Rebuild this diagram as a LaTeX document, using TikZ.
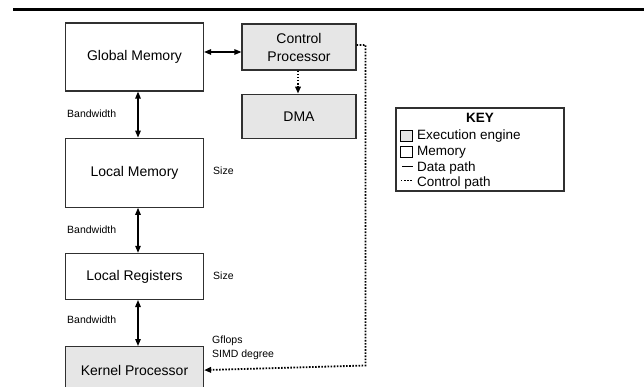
\documentclass[tikz,border=0pt]{standalone}
\usepackage{fontspec}
\setmainfont{Liberation Sans}
\usetikzlibrary{positioning,arrows.meta,calc}
\definecolor{enginegray}{HTML}{E6E6E6}
\definecolor{edgegray}{HTML}{303030}

\begin{document}
\begin{tikzpicture}[
  x=1pt, y=-1pt,
  every node/.style={font=\fontsize{14}{18}\selectfont, inner sep=0pt},
  memblk/.style={rectangle, draw=edgegray, line width=1.2pt,
                 minimum width=138pt, align=center, fill=white},
  engblk/.style={rectangle, draw=edgegray, line width=1.2pt,
                 align=center, fill=enginegray},
  note/.style={font=\fontsize{10.5}{14}\selectfont, anchor=west, align=left},
  keytext/.style={anchor=west, font=\fontsize{13.5}{16}\selectfont},
  swatch/.style={rectangle, draw=black, line width=1pt,
                 minimum width=12pt, minimum height=11pt},
  datapath/.style={{Triangle[length=7pt,width=5.5pt]}-{Triangle[length=7pt,width=5.5pt]},
                   line width=1.2pt},
  ctrlpath/.style={-{Triangle[length=7pt,width=5.5pt]}, line width=1.8pt,
                   dash pattern=on 1.6pt off 1.5pt}
]
\useasboundingbox (0,0) rectangle (644,387);

% top rule
\draw[line width=2.5pt] (13,9.5) -- (644,9.5);

% memory hierarchy
\node[memblk, minimum height=68pt]               (gmem)  at (134.5,57) {Global Memory};
\node[memblk, minimum height=69pt, below=46pt of gmem]  (lmem)  {Local Memory};
\node[memblk, minimum height=46pt, below=45pt of lmem]  (lreg)  {Local Registers};
\node[engblk, minimum width=138pt, minimum height=47pt,
      below=46pt of lreg]                        (kproc) {Kernel Processor};

\node[engblk, minimum width=114pt, minimum height=46pt] (ctrl) at (299,47) {Control\\Processor};
\node[engblk, minimum width=114pt, minimum height=44pt,
      below=23pt of ctrl]                        (dma)   {DMA};

\draw[datapath] ([yshift=5pt]gmem.east) -- ([yshift=-5pt]ctrl.west);
\draw[datapath] ([xshift=3.5pt]gmem.south) -- ([xshift=3.5pt]lmem.north);
\draw[datapath] ([xshift=3.5pt]lmem.south) -- ([xshift=3.5pt]lreg.north);
\draw[datapath] ([xshift=3.5pt]lreg.south) -- ([xshift=3.5pt]kproc.north);

\draw[ctrlpath] ([xshift=-1pt]ctrl.south) -- ([xshift=-1pt]dma.north);
\coordinate (turn) at (365.5,365.5);
\draw[ctrlpath] ([yshift=2pt]ctrl.east) -| (turn) -- (kproc.east);

% annotations
\node[note] (bw1) at (67,114) {Bandwidth};
\node[note] (bw2) at (67,230) {Bandwidth};
\node[note] (bw3) at (67,320) {Bandwidth};
\node[note] (sz1) at (213,171) {Size};
\node[note] (sz2) at (213,276) {Size};
\node[note] (perf) at (212,348) {Gflops\\SIMD degree};

% key
\node[rectangle, draw=edgegray, line width=1.2pt,
      minimum width=168pt, minimum height=83pt] (key) at (480,149.5) {};
\node[font=\fontsize{13.5}{16}\selectfont\bfseries] (keyttl) at (480,118) {KEY};
\node[swatch, fill=enginegray] (sweng) at (406,136) {};
\node[keytext] (lbleng) at (417,136) {Execution engine};
\node[swatch, fill=white]      (swmem) at (406,152) {};
\node[keytext] (lblmem) at (417,152) {Memory};
\coordinate (swdat) at (402,167);
\node[keytext] (lbldat) at (417,168) {Data path};
\draw[line width=1pt] (swdat) -- ++(11,0);
\coordinate (swctl) at (401,180.5);
\node[keytext] (lblctl) at (417,183) {Control path};
\draw[line width=1.4pt, dash pattern=on 1.4pt off 1.7pt] (swctl) -- ++(12,0);

\end{tikzpicture}
\end{document}
